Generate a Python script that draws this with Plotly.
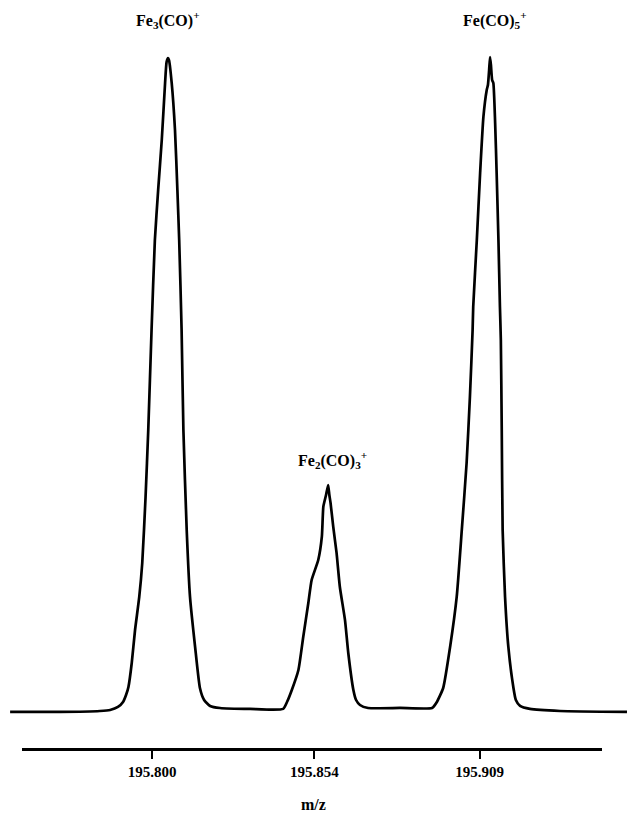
import plotly.graph_objects as go

# Spectrum trace: m/z vs relative intensity (%)
mz = [
    195.7527, 195.7693, 195.7826, 195.7860, 195.7886, 195.7903, 195.7913, 195.7921,
    195.7932, 195.7943, 195.7957, 195.7967, 195.7978, 195.7987, 195.7998, 195.8009,
    195.8020, 195.8032, 195.8043, 195.8048, 195.8053, 195.8056, 195.8065, 195.8076,
    195.8084, 195.8090, 195.8098, 195.8104, 195.8115, 195.8126, 195.8143, 195.8159,
    195.8173, 195.8193, 195.8226, 195.8326, 195.8436, 195.8449, 195.8465, 195.8487,
    195.8503, 195.8520, 195.8531, 195.8553, 195.8565, 195.8570, 195.8579, 195.8586,
    195.8590, 195.8594, 195.8603, 195.8614, 195.8625, 195.8642, 195.8653, 195.8670,
    195.8679, 195.8692, 195.8719, 195.8825, 195.8932, 195.8948, 195.8969, 195.8992,
    195.9014, 195.9031, 195.9047, 195.9058, 195.9067, 195.9069, 195.9081, 195.9092,
    195.9103, 195.9114, 195.9118, 195.9122, 195.9125, 195.9128, 195.9132, 195.9136,
    195.9142, 195.9147, 195.9153, 195.9158, 195.9161, 195.9164, 195.9167, 195.9175,
    195.9186, 195.9203, 195.9211, 195.9225, 195.9258, 195.9358, 195.9581,
]
intensity = [
    -0.15, -0.15, 0.00, 0.15, 0.61, 1.38, 2.45, 3.68,
    7.35, 12.40, 17.46, 22.66, 32.77, 43.03, 58.35, 72.13,
    79.79, 87.44, 96.17, 99.39, 100.0, 99.69, 96.17, 88.97,
    79.79, 72.13, 58.35, 43.03, 27.72, 17.46, 9.80, 3.52,
    1.68, 0.77, 0.46, 0.31, 0.31, 1.38, 3.22, 6.28,
    11.33, 16.54, 20.06, 23.12, 26.69, 31.29, 33.08, 34.61,
    33.08, 31.85, 28.18, 24.20, 18.99, 13.94, 8.88, 3.22,
    1.68, 0.92, 0.46, 0.46, 0.46, 1.38, 3.52, 9.80,
    17.46, 27.72, 37.98, 48.09, 58.35, 61.87, 72.13, 82.39,
    91.01, 95.10, 95.87, 98.16, 100.15, 98.93, 96.63, 96.17,
    90.05, 82.39, 72.13, 61.87, 56.81, 43.03, 27.72, 17.46,
    9.80, 3.52, 1.68, 0.77, 0.31, 0.00, -0.15,
]

# Ion assignments and where their labels sit
ion_labels = ["Fe<sub>3</sub>(CO)<sup>+</sup>", "Fe<sub>2</sub>(CO)<sub>3</sub><sup>+</sup>",
              "Fe(CO)<sub>5</sub><sup>+</sup>"]
ion_label_mz = [195.8053, 195.8602, 195.9142]
ion_label_y = [105.8, 38.4, 105.8]

# Axis ticks (exact masses)
tick_vals = [195.800, 195.854, 195.909]
tick_text = ["195.800", "195.854", "195.909"]

W, H = 627, 818
serif = "Liberation Serif, Times New Roman, serif"

fig = go.Figure()
fig.add_trace(go.Scatter(
    x=mz, y=intensity, mode="lines",
    line=dict(color="black", width=2.7, shape="spline", smoothing=0.5),
    hoverinfo="skip", showlegend=False,
))
# Invisible companion trace so the scale axis is rendered
fig.add_trace(go.Scatter(
    x=[tick_vals[0], tick_vals[-1]], y=[None, None], xaxis="x2", yaxis="y",
    mode="markers", marker=dict(opacity=0), hoverinfo="skip", showlegend=False,
))

for txt, xm, yv in zip(ion_labels, ion_label_mz, ion_label_y):
    fig.add_annotation(
        x=xm, y=yv, xref="x", yref="y", text=txt, showarrow=False,
        xanchor="center", yanchor="middle",
        font=dict(family=serif, size=16, color="black", weight="bold"),
    )

fig.add_annotation(
    x=0.5, y=(H - 804) / H, xref="paper", yref="paper", text="m/z",
    showarrow=False, xanchor="center", yanchor="middle",
    font=dict(family=serif, size=16, color="black", weight="bold"),
)

fig.update_layout(
    width=W, height=H,
    margin=dict(l=0, r=0, t=0, b=0),
    paper_bgcolor="white", plot_bgcolor="rgba(0,0,0,0)",
    xaxis=dict(range=[195.749334, 195.958106], visible=False, domain=[0, 1]),
    yaxis=dict(range=[-16.39, 108.88], visible=False, domain=[0, 1]),
    xaxis2=dict(
        anchor="free", position=(H - 749) / H,
        domain=[22 / W, 602 / W], range=[195.75666, 195.94978],
        showline=True, linecolor="black", linewidth=2.5,
        showgrid=False, zeroline=False,
        tickmode="array", tickvals=tick_vals, ticktext=tick_text,
        ticks="outside", ticklen=8, tickwidth=2, tickcolor="black",
        tickfont=dict(family=serif, size=15, color="black", weight="bold"),
        side="bottom",
    ),
    showlegend=False,
)

fig.write_html("out.html", config={"displayModeBar": False})
